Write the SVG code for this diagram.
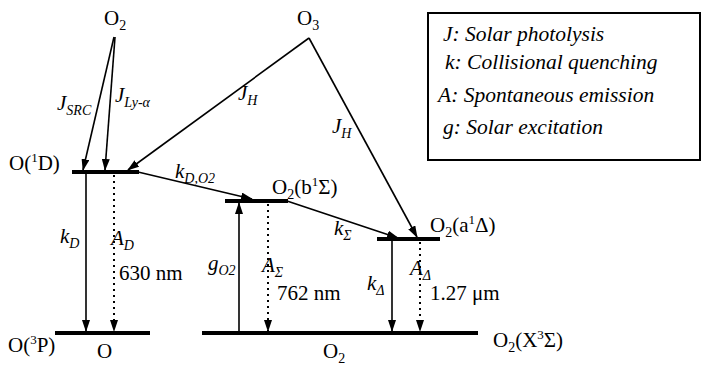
<svg xmlns="http://www.w3.org/2000/svg" width="707" height="365" viewBox="0 0 707 365">
<style>
text{font-family:'Liberation Serif','DejaVu Serif','Times New Roman',serif;font-size:21px;fill:#000}
.it{font-style:italic}
.sub{font-size:14px}
.sup{font-size:13px}
.lvl{stroke:#000;stroke-width:4;fill:none}
.ln{stroke:#000;stroke-width:1.6;fill:none;marker-end:url(#ah)}
.dot{stroke:#000;stroke-width:2;fill:none;stroke-dasharray:2 4;marker-end:url(#ah)}
.leg{font-style:italic;font-size:21.5px}
</style>
<defs>
<marker id="ah" viewBox="0 0 12 8" refX="11" refY="4" markerWidth="12" markerHeight="8" markerUnits="userSpaceOnUse" orient="auto">
<path d="M0,0 L12,4 L0,8 z" fill="#000"/>
</marker>
</defs>

<g id="legend">
<rect x="428" y="13" width="272" height="147" fill="#fff" stroke="#000" stroke-width="2"/>
<text class="leg" x="443" y="41">J: Solar photolysis</text>
<text class="leg" x="445" y="69">k: Collisional quenching</text>
<text class="leg" x="438" y="102">A: Spontaneous emission</text>
<text class="leg" x="443" y="134">g: Solar excitation</text>
</g>

<g id="O2-top"><text x="104" y="25">O<tspan class="sub" dy="5">2</tspan></text></g>
<g id="O3-top"><text x="297" y="25">O<tspan class="sub" dy="5">3</tspan></text></g>

<g id="O1D">
<line class="lvl" x1="72" y1="172" x2="139" y2="172"/>
<text x="9" y="170">O(<tspan class="sup" dy="-8">1</tspan><tspan dy="8">D)</tspan></text>
</g>
<g id="O3P">
<line class="lvl" x1="55" y1="333" x2="150" y2="333"/>
<text x="8" y="352">O(<tspan class="sup" dy="-8">3</tspan><tspan dy="8">P)</tspan></text>
<text x="97" y="358">O</text>
</g>
<g id="O2b">
<line class="lvl" x1="225" y1="201" x2="288" y2="201"/>
<text x="272" y="194">O<tspan class="sub" dy="5">2</tspan><tspan dy="-5">(b</tspan><tspan class="sup" dy="-8">1</tspan><tspan dy="8">Σ)</tspan></text>
</g>
<g id="O2a">
<line class="lvl" x1="377" y1="239" x2="440" y2="239"/>
<text x="430" y="232">O<tspan class="sub" dy="5">2</tspan><tspan dy="-5">(a</tspan><tspan class="sup" dy="-8">1</tspan><tspan dy="8">Δ)</tspan></text>
</g>
<g id="O2X">
<line class="lvl" x1="202" y1="333" x2="478" y2="333"/>
<text x="323" y="358">O<tspan class="sub" dy="5">2</tspan></text>
<text x="493" y="347">O<tspan class="sub" dy="5">2</tspan><tspan dy="-5">(X</tspan><tspan class="sup" dy="-8">3</tspan><tspan dy="8">Σ)</tspan></text>
</g>

<g id="connectors">
<line class="ln" x1="114" y1="37" x2="83" y2="170"/>
<line class="ln" x1="115" y1="37" x2="105" y2="170"/>
<line class="ln" x1="309" y1="38" x2="128" y2="170"/>
<line class="ln" x1="309" y1="38" x2="417" y2="237"/>
<line class="ln" x1="138" y1="172" x2="252" y2="199"/>
<line class="ln" x1="287" y1="201" x2="398" y2="238"/>
<line class="ln" x1="86" y1="174" x2="86" y2="331"/>
<line class="dot" x1="114" y1="175" x2="114" y2="331"/>
<line class="ln" x1="239" y1="333" x2="239" y2="203"/>
<line class="dot" x1="268" y1="204" x2="268" y2="331"/>
<line class="ln" x1="392" y1="241" x2="392" y2="331"/>
<line class="dot" x1="420" y1="242" x2="420" y2="331"/>
</g>

<g id="labels">
<text class="it" x="57" y="110">J<tspan class="sub" dy="5">SRC</tspan></text>
<text class="it" x="115" y="102">J<tspan class="sub" dy="5">Ly-α</tspan></text>
<text class="it" x="238" y="100">J<tspan class="sub" dy="5">H</tspan></text>
<text class="it" x="332" y="133">J<tspan class="sub" dy="5">H</tspan></text>
<text class="it" x="175" y="178">k<tspan class="sub" dy="5">D,O2</tspan></text>
<text class="it" x="60" y="243">k<tspan class="sub" dy="5">D</tspan></text>
<text class="it" x="111" y="245">A<tspan class="sub" dy="5">D</tspan></text>
<text x="119" y="280">630 nm</text>
<text class="it" x="208" y="270">g<tspan class="sub" dy="5">O2</tspan></text>
<text class="it" x="262" y="272">A<tspan class="sub" dy="5">Σ</tspan></text>
<text x="277" y="300">762 nm</text>
<text class="it" x="334" y="235">k<tspan class="sub" dy="5">Σ</tspan></text>
<text class="it" x="367" y="290">k<tspan class="sub" dy="5">Δ</tspan></text>
<text class="it" x="410" y="275">A<tspan class="sub" dy="5">Δ</tspan></text>
<text x="430" y="300">1.27 μm</text>
</g>
</svg>
